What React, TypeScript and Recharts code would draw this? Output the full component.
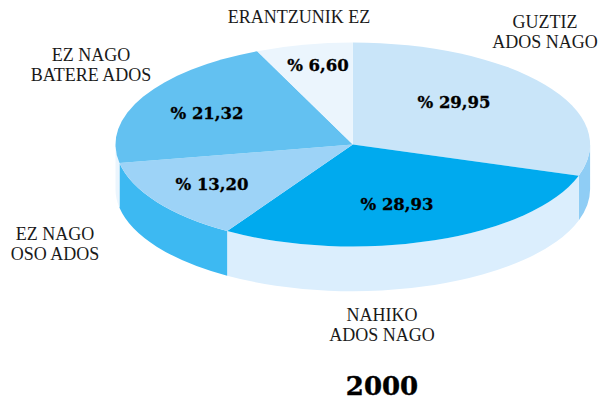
import React from "react";
import { PieChart, Pie } from "recharts";

const values = [29.95, 28.93, 13.2, 21.32, 6.6];
const valueLabels = ["% 29,95", "% 28,93", "% 13,20", "% 21,32", "% 6,60"];
const categories = [
  ["GUZTIZ", "ADOS NAGO"],
  ["NAHIKO", "ADOS NAGO"],
  ["EZ NAGO", "OSO ADOS"],
  ["EZ NAGO", "BATERE ADOS"],
  ["ERANTZUNIK EZ"],
];
const topColors = ["#c9e5f9", "#00aaee", "#9dd3f7", "#63c1f1", "#ebf5fd"];
const wallColors = ["#8fcdf5", "#dbeefd", "#3db9f2", "#ebf5fd", "#ebf5fd"];
const title = "2000";

const table = values.map((value, i) => ({
  value,
  fill: topColors[i],
  wall: wallColors[i],
  text: valueLabels[i],
  lines: categories[i],
}));

const W = 600;
const H = 400;
const CX = 352.8;
const CY = 144.5;
const RX = 237.3;
const SQUASH = 102 / 237.3;
const DEPTH = 44.7;

const VALUE_POS = [
  [454, 108],
  [397, 210],
  [212, 190],
  [207, 119],
  [318, 71],
];
const CAT_POS = [
  [545, 28],
  [382, 321],
  [55, 240],
  [91, 61],
  [299, 23],
];
const LINE_STEP = 20;

const serif = "'Liberation Serif', serif";
const heavy = "'DejaVu Serif', serif";

function EllipticSector(props: any) {
  const { cx, cy, outerRadius, startAngle, endAngle, fill } = props;
  const wall = props.wall ?? props.payload?.wall;
  const rx = outerRadius;
  const ry = outerRadius * SQUASH;
  const pt = (deg: number, dy = 0) => {
    const r = (deg * Math.PI) / 180;
    return [cx + rx * Math.cos(r), cy - ry * Math.sin(r) + dy].map((n) => n.toFixed(2)).join(" ");
  };
  const large = Math.abs(startAngle - endAngle) > 180 ? 1 : 0;
  const top = `M ${cx} ${cy} L ${pt(startAngle)} A ${rx} ${ry} 0 ${large} 1 ${pt(endAngle)} Z`;
  const hi = Math.min(startAngle, 0);
  const lo = Math.max(endAngle, -180);
  const side =
    hi > lo
      ? `M ${pt(hi)} A ${rx} ${ry} 0 0 1 ${pt(lo)} L ${pt(lo, DEPTH)} A ${rx} ${ry} 0 0 0 ${pt(hi, DEPTH)} Z`
      : null;
  return (
    <g>
      {side && <path d={side} fill={wall} stroke="none" />}
      <path d={top} fill={fill} stroke="none" />
    </g>
  );
}

function SliceLabel(props: any) {
  const i = props.index;
  const [vx, vy] = VALUE_POS[i];
  const [lx, ly] = CAT_POS[i];
  return (
    <g>
      <text x={vx} y={vy} textAnchor="middle" fontFamily={heavy} fontWeight="bold" fontSize={16.5} fill="#000" stroke="#000" strokeWidth={0.3}>
        {valueLabels[i]}
      </text>
      {categories[i].map((line, k) => (
        <text key={k} x={lx} y={ly + k * LINE_STEP} textAnchor="middle" fontFamily={serif} fontSize={18} fill="#1a1a1a">
          {line}
        </text>
      ))}
    </g>
  );
}

export default function App() {
  return (
    <>
      <style>{"html,body{margin:0;padding:0;overflow:hidden}"}</style>
      <PieChart width={W} height={H} margin={{ top: 0, right: 0, bottom: 0, left: 0 }}>
        <Pie
          data={table}
          dataKey="value"
          cx={CX}
          cy={CY}
          innerRadius={0}
          outerRadius={RX}
          startAngle={90}
          endAngle={-270}
          stroke="none"
          isAnimationActive={false}
          shape={EllipticSector}
          label={SliceLabel}
          labelLine={false}
        />
        <text x={382} y={395} textAnchor="middle" fontFamily={heavy} fontWeight="bold" fontSize={26} fill="#000" stroke="#000" strokeWidth={0.4}>
          {title}
        </text>
      </PieChart>
    </>
  );
}
